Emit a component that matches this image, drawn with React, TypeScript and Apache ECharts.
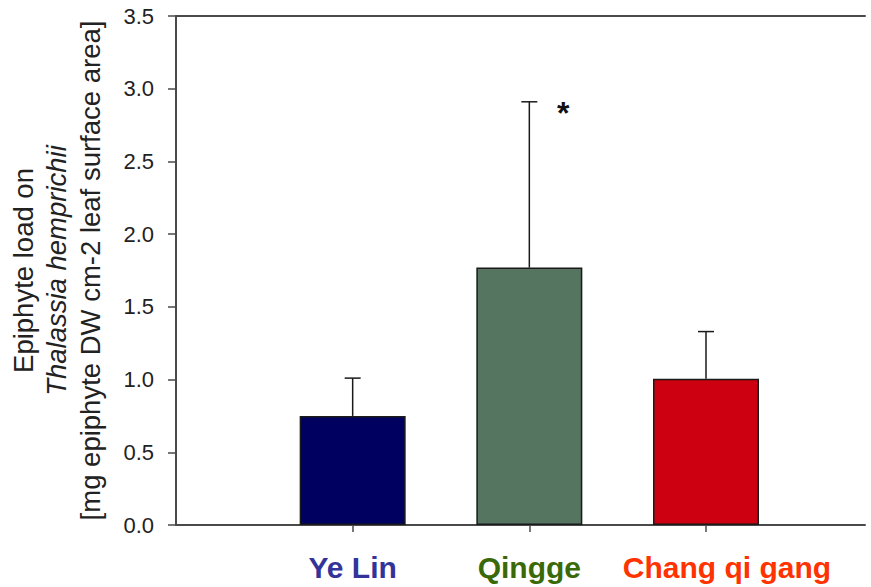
import React, { useEffect, useRef } from "react";
import * as echarts from "echarts";

const categories = ["Ye Lin", "Qingge", "Chang qi gang"];
const positions = [1, 2, 3];
const means = [0.75, 1.77, 1.005];
const errorTops = [1.01, 2.91, 1.33];
const significant = [false, true, false];
const barColors = ["#000060", "#557560", "#cc0010"];
const labelColors = ["#333399", "#3a6a08", "#ff3300"];
const yTicks = [0, 0.5, 1, 1.5, 2, 2.5, 3, 3.5];

export default function App() {
  const ref = useRef<HTMLDivElement>(null);
  useEffect(() => {
    document.body.style.margin = "0";
    if (!ref.current) return;
    const chart = echarts.init(ref.current, null, { renderer: "svg" });
    const axisColor = "#4a4a4a";
    const font = "Liberation Sans, Arial";
    chart.setOption({
      animation: false,
      grid: {
        left: 176,
        right: 6,
        top: 16,
        bottom: 62,
        containLabel: false,
        outerBoundsMode: "none",
      },
      xAxis: [
        {
          type: "value",
          min: 0,
          max: 3.9,
          interval: 1,
          splitLine: { show: false },
          axisLine: { show: true, onZero: false, lineStyle: { color: axisColor, width: 2 } },
          axisTick: {
            show: true,
            customValues: positions,
            length: 7,
            lineStyle: { color: axisColor, width: 1.5 },
          },
          axisLabel: {
            show: true,
            customValues: positions,
            margin: 27,
            fontFamily: font,
            fontWeight: "bold",
            fontSize: 30,
            formatter: (v: number) => {
              const i = positions.indexOf(Math.round(v));
              if (i < 0) return "";
              return `{c${i}|${categories[i]}}`;
            },
            rich: {
              c0: { color: labelColors[0], fontWeight: "bold", fontSize: 30, fontFamily: font },
              c1: { color: labelColors[1], fontWeight: "bold", fontSize: 30, fontFamily: font },
              c2: {
                color: labelColors[2],
                fontWeight: "bold",
                fontSize: 30,
                fontFamily: font,
                padding: [0, 0, 0, 42],
              },
            },
          },
        },
        {
          type: "value",
          position: "top",
          min: 0,
          max: 3.9,
          interval: 1,
          splitLine: { show: false },
          axisLine: { show: true, onZero: false, lineStyle: { color: axisColor, width: 2 } },
          axisTick: { show: false },
          axisLabel: { show: false },
        },
      ],
      yAxis: {
        type: "value",
        min: 0,
        max: 3.5,
        interval: 0.5,
        splitLine: { show: false },
        axisLine: { show: true, onZero: false, lineStyle: { color: axisColor, width: 2 } },
        axisTick: { show: true, inside: false, length: 8, lineStyle: { color: axisColor, width: 1.5 } },
        axisLabel: {
          margin: 22,
          fontSize: 22,
          color: "#222",
          fontFamily: font,
          formatter: (v: number) => {
            const t = yTicks.find((x) => Math.abs(x - v) < 1e-9);
            return t === undefined ? "" : t.toFixed(1);
          },
        },
        name:
          "Epiphyte load on\n{i|Thalassia hemprichii}\n[mg epiphyte DW cm-2 leaf surface area]",
        nameLocation: "middle",
        nameGap: 69,
        nameTextStyle: {
          fontSize: 27.5,
          color: "#222",
          fontFamily: font,
          lineHeight: 33.5,
          rich: {
            i: {
              fontStyle: "italic",
              fontSize: 27.5,
              color: "#222",
              fontFamily: font,
              lineHeight: 33.5,
            },
          },
        },
      },
      series: [
        {
          type: "bar",
          barWidth: 106,
          data: positions.map((p, i) => ({
            value: [p, means[i]],
            itemStyle: { color: barColors[i], borderColor: "#1a1a1a", borderWidth: 1.5 },
          })),
        },
        {
          type: "custom",
          data: positions.map((p, i) => [p, means[i], errorTops[i], significant[i] ? 1 : 0]),
          renderItem: (params: any, api: any) => {
            const x = api.value(0);
            const base = api.coord([x, api.value(1)]);
            const top = api.coord([x, api.value(2)]);
            const half = 8;
            const children: any[] = [
              {
                type: "line",
                shape: { x1: base[0], y1: base[1], x2: top[0], y2: top[1] },
                style: { stroke: "#1a1a1a", lineWidth: 1.5 },
              },
              {
                type: "line",
                shape: { x1: top[0] - half, y1: top[1], x2: top[0] + half, y2: top[1] },
                style: { stroke: "#1a1a1a", lineWidth: 1.5 },
              },
            ];
            if (api.value(3) === 1) {
              children.push({
                type: "text",
                x: top[0] + 34,
                y: top[1] + 11,
                style: {
                  text: "*",
                  fill: "#111",
                  font: "bold 32px Liberation Sans, Arial",
                  align: "center",
                  verticalAlign: "middle",
                },
              });
            }
            return { type: "group", children };
          },
          z: 5,
        },
      ],
    });
    return () => chart.dispose();
  }, []);
  return <div ref={ref} style={{ width: 871, height: 587, background: "#fff" }} />;
}
